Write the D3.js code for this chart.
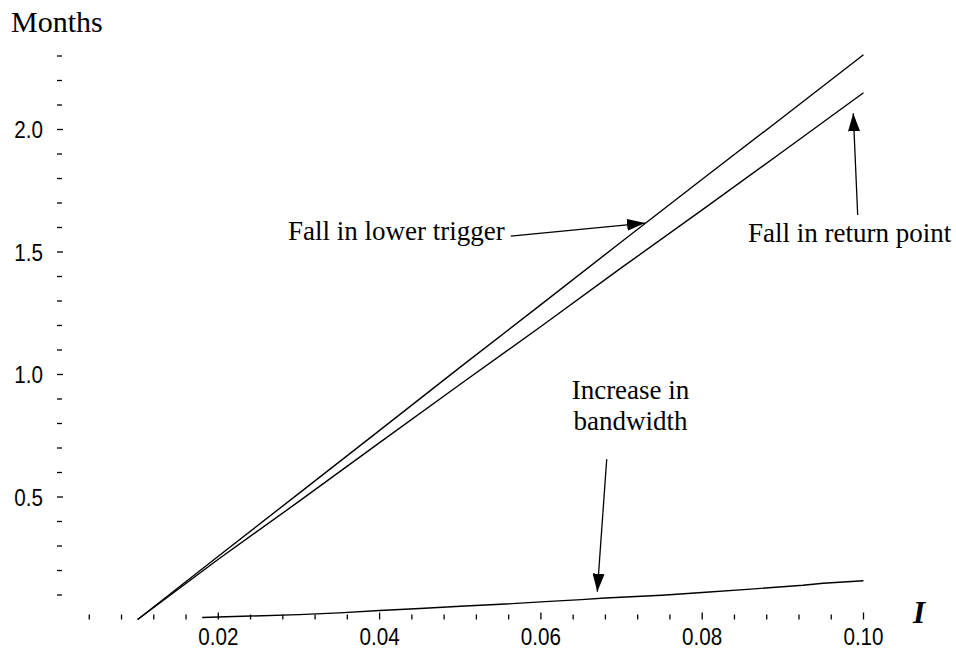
<!DOCTYPE html>
<html>
<head>
<meta charset="utf-8">
<script src="https://d3js.org/d3.v7.min.js"></script>
<style>
  body { margin: 0; background: #fff; }
  .tick-label { font-family: "Liberation Sans", Arial, sans-serif; font-size: 24px; fill: #000; }
  .note { font-family: "Liberation Serif", "Times New Roman", serif; font-size: 27px; fill: #000; }
</style>
</head>
<body>
<div id="chart"></div>
<script>
// Data (x = I, y = months)
var lowerTriggerX = [0.010, 0.020, 0.030, 0.040, 0.050, 0.060, 0.070, 0.080, 0.090, 0.100];
var lowerTriggerY = [0.000, 0.258, 0.515, 0.772, 1.030, 1.285, 1.542, 1.797, 2.050, 2.305];

var returnPointX = [0.010, 0.020, 0.030, 0.040, 0.050, 0.060, 0.070, 0.080, 0.090, 0.100];
var returnPointY = [0.000, 0.246, 0.482, 0.722, 0.960, 1.196, 1.436, 1.672, 1.910, 2.150];

var bandwidthX = [0.018, 0.024, 0.030, 0.035, 0.040, 0.045, 0.050, 0.055, 0.060, 0.065, 0.068, 0.075, 0.080, 0.086, 0.0925, 0.095, 0.100];
var bandwidthY = [0.008, 0.014, 0.020, 0.027, 0.037, 0.045, 0.054, 0.062, 0.072, 0.081, 0.088, 0.099, 0.110, 0.124, 0.140, 0.148, 0.158];

var xMajorTicks = [0.02, 0.04, 0.06, 0.08, 0.10];
var xTickLabels = ["0.02", "0.04", "0.06", "0.08", "0.10"];
var yMajorTicks = [0.5, 1.0, 1.5, 2.0];
var yTickLabels = ["0.5", "1.0", "1.5", "2.0"];

// Annotations in data units
var notes = [
  {lines: ["Fall in lower trigger"], x: 0.02864, y: 1.549, anchor: "start",
   from: [0.05626, 1.565], to: [0.07291, 1.618]},
  {lines: ["Fall in return point"], x: 0.08568, y: 1.542, anchor: "start",
   from: [0.09928, 1.651], to: [0.09873, 2.066]},
  {lines: ["Increase in", "bandwidth"], x: 0.07111, y: 0.90, anchor: "middle",
   from: [0.06816, 0.654], to: [0.06699, 0.1135]}
];

var width = 956, height = 660;
var squeeze = 0.86; // tick labels are set in a condensed face

var x = d3.scaleLinear().domain([0, 0.1]).range([57, 863.5]);
var y = d3.scaleLinear().domain([0, 2.3]).range([619.5, 56]);

var svg = d3.select("#chart").append("svg")
    .attr("width", width)
    .attr("height", height);

svg.append("defs").append("marker")
    .attr("id", "head")
    .attr("viewBox", "0 0 18 12")
    .attr("refX", 18)
    .attr("refY", 6)
    .attr("markerWidth", 18)
    .attr("markerHeight", 12)
    .attr("markerUnits", "userSpaceOnUse")
    .attr("orient", "auto")
  .append("path")
    .attr("d", "M0,0 L18,6 L0,12 Z")
    .attr("fill", "#000");

// x ticks (minor every 0.004, no axis line)
var xMinor = d3.range(1, 26).map(function(i) { return +(i * 0.004).toFixed(3); });
svg.append("g")
    .selectAll("line")
    .data(xMinor)
  .enter().append("line")
    .attr("x1", function(d) { return x(d); })
    .attr("x2", function(d) { return x(d); })
    .attr("y1", y(0))
    .attr("y2", function(d) { return xMajorTicks.some(function(m) { return Math.abs(m - d) < 1e-6; }) ? y(0) - 7 : y(0) - 5; })
    .attr("stroke", "#000")
    .attr("stroke-width", 1.3);

svg.append("g")
    .selectAll("text")
    .data(xMajorTicks)
  .enter().append("text")
    .attr("class", "tick-label")
    .attr("transform", function(d) { return "translate(" + x(d) + ",645) scale(" + squeeze + ",1)"; })
    .attr("text-anchor", "middle")
    .text(function(d, i) { return xTickLabels[i]; });

// y ticks (minor every 0.1)
var yMinor = d3.range(1, 24).map(function(i) { return +(i * 0.1).toFixed(1); });
svg.append("g")
    .selectAll("line")
    .data(yMinor)
  .enter().append("line")
    .attr("x1", x(0))
    .attr("x2", function(d) { return yMajorTicks.indexOf(d) >= 0 ? x(0) + 6 : x(0) + 5; })
    .attr("y1", function(d) { return y(d); })
    .attr("y2", function(d) { return y(d); })
    .attr("stroke", "#000")
    .attr("stroke-width", 1.3);

svg.append("g")
    .selectAll("text")
    .data(yMajorTicks)
  .enter().append("text")
    .attr("class", "tick-label")
    .attr("transform", function(d) { return "translate(43," + y(d) + ") scale(" + squeeze + ",1)"; })
    .attr("dy", "0.36em")
    .attr("text-anchor", "end")
    .text(function(d, i) { return yTickLabels[i]; });

// axis titles
svg.append("text")
    .attr("x", 11)
    .attr("y", 32)
    .style("font-family", "'Liberation Serif', 'Times New Roman', serif")
    .style("font-size", "30px")
    .text("Months");

svg.append("text")
    .attr("x", 913)
    .attr("y", 623)
    .style("font-family", "'Liberation Serif', 'Times New Roman', serif")
    .style("font-size", "31px")
    .style("font-weight", "bold")
    .style("font-style", "italic")
    .text("I");

// curves
var line = d3.line()
    .x(function(d) { return x(d[0]); })
    .y(function(d) { return y(d[1]); });

var series = [
  d3.zip(lowerTriggerX, lowerTriggerY),
  d3.zip(returnPointX, returnPointY),
  d3.zip(bandwidthX, bandwidthY)
];

svg.append("g")
    .selectAll("path")
    .data(series)
  .enter().append("path")
    .attr("d", line)
    .attr("fill", "none")
    .attr("stroke", "#000")
    .attr("stroke-width", 1.4);

// annotations
notes.forEach(function(n) {
  var t = svg.append("text")
      .attr("class", "note")
      .attr("x", x(n.x))
      .attr("y", y(n.y))
      .attr("text-anchor", n.anchor);
  n.lines.forEach(function(s, i) {
    t.append("tspan")
      .attr("x", x(n.x))
      .attr("dy", i === 0 ? 0 : 31)
      .text(s);
  });
  svg.append("line")
      .attr("x1", x(n.from[0]))
      .attr("y1", y(n.from[1]))
      .attr("x2", x(n.to[0]))
      .attr("y2", y(n.to[1]))
      .attr("stroke", "#000")
      .attr("stroke-width", 1.3)
      .attr("marker-end", "url(#head)");
});
</script>
</body>
</html>
